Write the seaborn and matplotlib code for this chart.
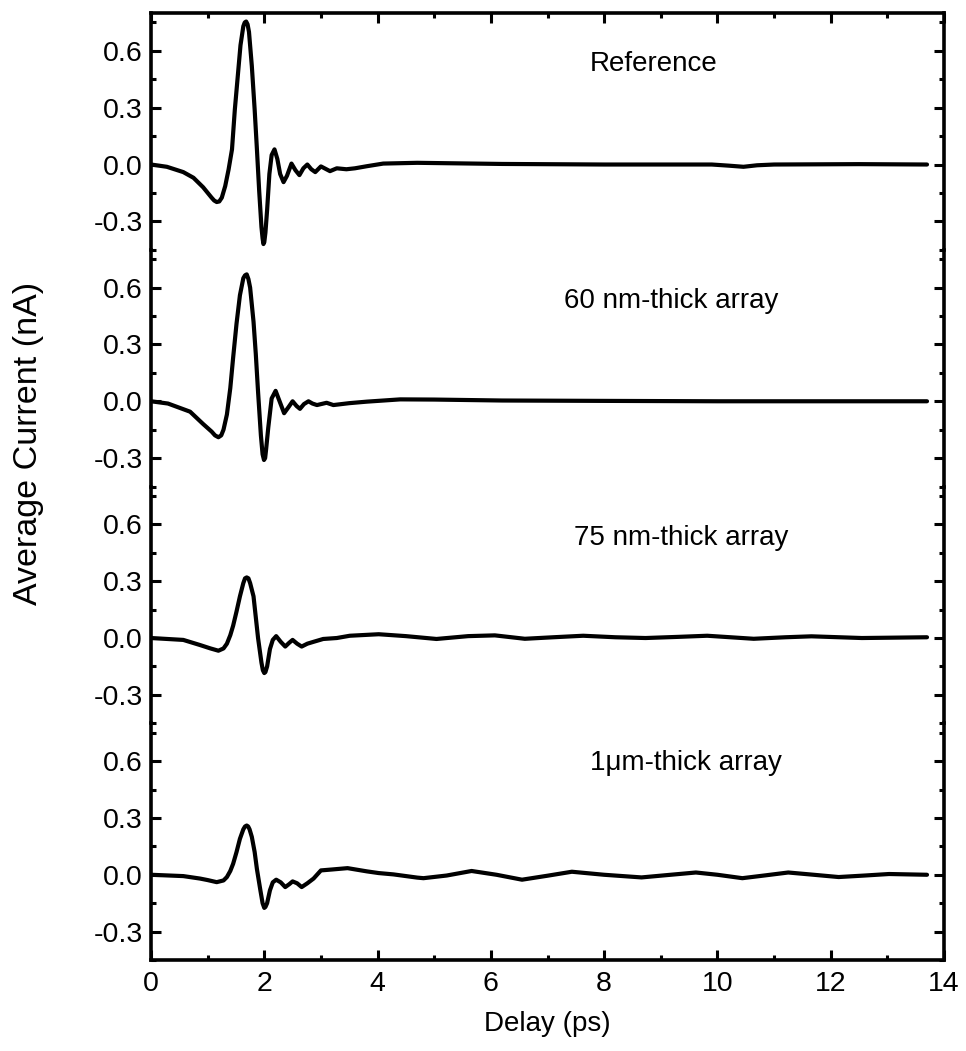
import numpy as np
import pandas as pd
import matplotlib
matplotlib.use("Agg")
import matplotlib.pyplot as plt
from matplotlib.ticker import MultipleLocator
import seaborn as sns

# ---------------- data ----------------
t_ref = [0, 0.28, 0.57, 0.75, 0.92, 1.07, 1.115, 1.16, 1.205, 1.25, 1.31, 1.37, 1.43, 1.48,
         1.53, 1.58, 1.63, 1.655, 1.68, 1.705, 1.73, 1.78, 1.83, 1.87, 1.91, 1.95, 1.97, 1.985,
         2.0, 2.02, 2.05, 2.09, 2.13, 2.18, 2.23, 2.28, 2.34, 2.40, 2.48, 2.55, 2.62, 2.69,
         2.76, 2.83, 2.90, 3.0, 3.16, 3.28, 3.45, 3.6, 3.81, 4.1, 4.7, 6.2, 8.0, 9.9, 10.2,
         10.46, 10.7, 11.0, 12.5, 13.7]
v_ref = [0, -0.012, -0.04, -0.07, -0.12, -0.175, -0.19, -0.198, -0.195, -0.175, -0.114,
         -0.026, 0.08, 0.29, 0.46, 0.63, 0.73, 0.75, 0.755, 0.74, 0.70, 0.52, 0.29, 0.08,
         -0.14, -0.33, -0.39, -0.42, -0.41, -0.36, -0.24, -0.05, 0.05, 0.08, 0.03, -0.05,
         -0.093, -0.06, 0.005, -0.03, -0.056, -0.02, 0.0, -0.025, -0.04, -0.01, -0.035, -0.02,
         -0.025, -0.02, -0.009, 0.005, 0.009, 0.003, 0.0, 0.0, -0.006, -0.012, -0.004, 0.0,
         0.002, 0.0]

t_60 = [0, 0.3, 0.69, 0.92, 1.07, 1.13, 1.19, 1.24, 1.28, 1.34, 1.40, 1.45, 1.51, 1.57, 1.63,
        1.66, 1.69, 1.72, 1.75, 1.81, 1.85, 1.89, 1.94, 1.97, 1.995, 2.015, 2.03, 2.07, 2.13,
        2.2, 2.27, 2.35, 2.43, 2.5, 2.57, 2.63, 2.7, 2.78, 2.85, 2.93, 3.1, 3.22, 3.5, 3.81,
        4.4, 5.0, 6.2, 8.0, 10.0, 12.0, 13.7]
v_60 = [0, -0.012, -0.055, -0.12, -0.16, -0.18, -0.19, -0.18, -0.15, -0.07, 0.07, 0.23, 0.41,
        0.56, 0.65, 0.665, 0.67, 0.645, 0.6, 0.42, 0.25, 0.05, -0.18, -0.28, -0.31, -0.30,
        -0.26, -0.14, 0.015, 0.055, 0.0, -0.063, -0.03, 0.0, -0.025, -0.04, -0.015, 0.0,
        -0.012, -0.02, -0.008, -0.02, -0.01, -0.002, 0.01, 0.009, 0.004, 0.002, 0.0, 0.0, 0.0]

t_75 = [0, 0.57, 0.865, 1.05, 1.19, 1.28, 1.34, 1.40, 1.45, 1.51, 1.57, 1.63, 1.66, 1.69, 1.72,
        1.75, 1.81, 1.89, 1.95, 1.975, 2.0, 2.02, 2.05, 2.1, 2.15, 2.21, 2.29, 2.37, 2.44, 2.5,
        2.58, 2.66, 2.76, 2.87, 3.04, 3.28, 3.51, 4.02, 4.5, 5.04, 5.6, 6.07, 6.6, 7.1, 7.63,
        8.2, 8.73, 9.3, 9.82, 10.64, 11.2, 11.66, 12.55, 13.7]
v_75 = [0, -0.01, -0.037, -0.055, -0.067, -0.055, -0.03, 0.015, 0.065, 0.14, 0.22, 0.29, 0.315,
        0.32, 0.315, 0.29, 0.22, 0.0, -0.13, -0.17, -0.185, -0.18, -0.15, -0.058, -0.01, 0.01,
        -0.02, -0.045, -0.025, -0.01, -0.03, -0.045, -0.03, -0.02, -0.005, 0.0, 0.012, 0.02,
        0.01, -0.005, 0.01, 0.014, -0.004, 0.004, 0.012, 0.004, 0.0, 0.006, 0.012, -0.004,
        0.004, 0.009, 0.0, 0.004]

t_1um = [0, 0.57, 0.865, 1.0, 1.16, 1.28, 1.34, 1.40, 1.45, 1.51, 1.57, 1.63, 1.66, 1.69, 1.715,
         1.74, 1.78, 1.83, 1.87, 1.93, 1.97, 2.0, 2.02, 2.05, 2.1, 2.15, 2.21, 2.29, 2.37, 2.44,
         2.5, 2.58, 2.66, 2.76, 2.87, 3.0, 3.2, 3.47, 3.81, 4.02, 4.28, 4.7, 4.81, 5.22, 5.66,
         6.1, 6.55, 7.0, 7.43, 8.0, 8.66, 9.1, 9.62, 10.0, 10.44, 10.85, 11.25, 11.7, 12.14,
         12.6, 13.03, 13.7]
v_1um = [0, -0.007, -0.02, -0.028, -0.039, -0.03, -0.012, 0.02, 0.058, 0.12, 0.19, 0.24, 0.255,
         0.26, 0.255, 0.24, 0.2, 0.12, 0.03, -0.08, -0.15, -0.175, -0.17, -0.15, -0.082, -0.04,
         -0.026, -0.04, -0.065, -0.05, -0.035, -0.045, -0.065, -0.045, -0.02, 0.023, 0.028,
         0.035, 0.018, 0.009, 0.002, -0.015, -0.018, -0.004, 0.02, 0.0, -0.026, -0.005, 0.016,
         0.0, -0.014, -0.002, 0.012, 0.0, -0.018, -0.003, 0.012, 0.0, -0.012, -0.004, 0.004, 0.0]

panel_labels = ["Reference", "60 nm-thick array", "75 nm-thick array", "1\u03bcm-thick array"]
x_ticks = [0, 2, 4, 6, 8, 10, 12, 14]
y_ticks = [-0.3, 0.0, 0.3, 0.6]

series = [(t_ref, v_ref), (t_60, v_60), (t_75, v_75), (t_1um, v_1um)]

# ---------------- style ----------------
sns.set_theme(style="ticks")
plt.rcParams["font.family"] = ["Liberation Sans", "DejaVu Sans"]
for key in ["text.color", "axes.labelcolor", "xtick.color", "ytick.color", "axes.edgecolor"]:
    plt.rcParams[key] = "black"

FS = 20.5
fig = plt.figure(figsize=(9.66, 10.51), dpi=100)
left, right = 151 / 966, 944 / 966
top, bottom = 1 - 13 / 1051, 1 - 960 / 1051
h = (top - bottom) / 4

label_pos = [(8.87, 0.53), (9.19, 0.53), (9.36, 0.53), (9.45, 0.59)]

axes = []
for i, ((t, v), lab) in enumerate(zip(series, panel_labels)):
    ax = fig.add_axes([left, top - (i + 1) * h, right - left, h])
    axes.append(ax)
    df = pd.DataFrame({"Delay": t, "Current": v})
    sns.lineplot(data=df, x="Delay", y="Current", ax=ax, color="black",
                 linewidth=3.0, sort=False, estimator=None)
    ax.set_xlim(0, 14)
    ax.set_ylim(-0.45, 0.8)
    ax.set_xlabel("")
    ax.set_ylabel("")
    ax.patch.set_alpha(0)
    for s in ["left", "right", "top", "bottom"]:
        ax.spines[s].set_linewidth(2.6)
        ax.spines[s].set_color("black")
    ax.spines["top"].set_visible(i == 0)
    ax.spines["bottom"].set_visible(i == 3)

    ax.yaxis.set_major_locator(plt.FixedLocator(y_ticks))
    ax.yaxis.set_minor_locator(plt.FixedLocator([-0.45, -0.15, 0.15, 0.45, 0.75]))
    ax.set_yticklabels([f"{y:.1f}" for y in y_ticks], fontsize=FS, color="black")
    ax.tick_params(axis="y", which="both", direction="in", left=True, right=True,
                   width=2.2, color="black", labelcolor="black")
    ax.tick_params(axis="y", which="major", length=7, pad=6)
    ax.tick_params(axis="y", which="minor", length=3.5)

    ax.xaxis.set_major_locator(plt.FixedLocator(x_ticks))
    ax.xaxis.set_minor_locator(MultipleLocator(1))
    if i == 0:
        ax.tick_params(axis="x", which="both", direction="in", top=True, bottom=False,
                       labelbottom=False, width=2.2, color="black")
    elif i == 3:
        ax.tick_params(axis="x", which="both", direction="in", top=False, bottom=True,
                       labelbottom=True, width=2.2, labelsize=FS, pad=8, color="black",
                       labelcolor="black")
    else:
        ax.tick_params(axis="x", which="both", top=False, bottom=False, labelbottom=False)
    ax.tick_params(axis="x", which="major", length=7)
    ax.tick_params(axis="x", which="minor", length=3.5)

    lx, ly = label_pos[i]
    ax.text(lx, ly, lab, ha="center", va="center", fontsize=20, color="black")

axes[3].set_xticklabels([str(x) for x in x_ticks])
axes[3].set_xlabel("Delay (ps)", fontsize=20, labelpad=10, color="black")
fig.text(29 / 966, 1 - 605 / 1051, "Average Current (nA)", rotation=90,
         ha="center", va="bottom", fontsize=24.5, color="black")

fig.savefig("out.png", dpi=100)
